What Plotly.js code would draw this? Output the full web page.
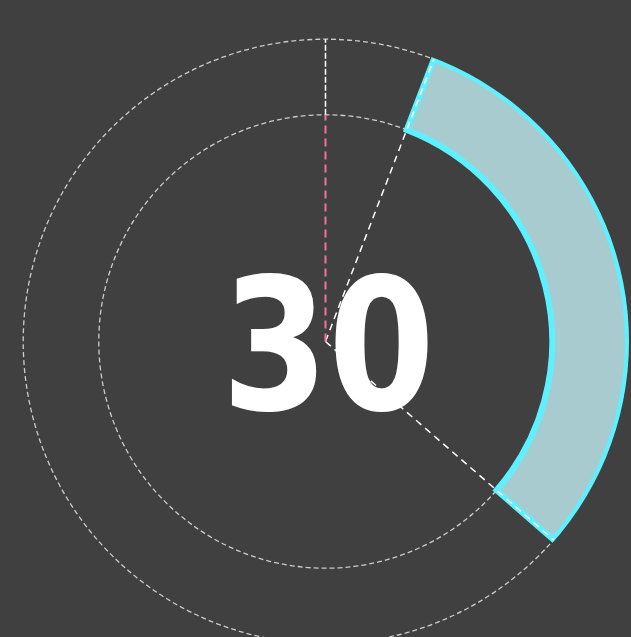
<!DOCTYPE html>
<html>
<head>
<meta charset="utf-8">
<script src="https://cdn.plot.ly/plotly-3.0.1.min.js"></script>
<style>
  html, body { margin: 0; padding: 0; background: #404040; overflow: hidden; }
  #chart { width: 631px; height: 700px; }
</style>
</head>
<body>
<div id="chart"></div>
<script>
// ---- data ----
const gaugeValue = 30;          // displayed value
const gaugeStart = 21;          // degrees, clockwise from top
const gaugeEnd = 131;           // degrees, clockwise from top
const innerR = 0.75;            // inner radius of the gauge band
const outerR = 1.0;             // outer radius of the gauge band
const markerAngle = 0;          // reference needle angle (top)

const bandCenter = (gaugeStart + gaugeEnd) / 2;
const bandWidth = gaugeEnd - gaugeStart;

const traces = [
  {
    type: 'barpolar',
    r: [outerR - innerR],
    base: [innerR],
    theta: [bandCenter],
    width: [bandWidth],
    marker: { color: '#a8cbd0', line: { color: '#5ef0ff', width: 6 } },
    hoverinfo: 'skip'
  },
  {
    type: 'scatterpolar', mode: 'lines',
    r: [0, outerR], theta: [gaugeStart, gaugeStart],
    line: { color: '#ffffff', width: 1.5, dash: '7px,5px' },
    hoverinfo: 'skip'
  },
  {
    type: 'scatterpolar', mode: 'lines',
    r: [0, outerR], theta: [gaugeEnd, gaugeEnd],
    line: { color: '#ffffff', width: 1.5, dash: '7px,5px' },
    hoverinfo: 'skip'
  },
  {
    type: 'scatterpolar', mode: 'lines',
    r: [0, innerR], theta: [markerAngle, markerAngle],
    line: { color: '#f5709f', width: 2, dash: '8px,5px' },
    hoverinfo: 'skip'
  },
  {
    type: 'scatterpolar', mode: 'lines',
    r: [innerR, outerR], theta: [markerAngle, markerAngle],
    line: { color: '#ffffff', width: 1.5, dash: '6px,2px' },
    hoverinfo: 'skip'
  }
];

const layout = {
  width: 631,
  height: 700,
  margin: { l: 22, r: 2, t: 38, b: 55, pad: 0 },
  paper_bgcolor: '#404040',
  plot_bgcolor: '#404040',
  showlegend: false,
  hovermode: false,
  polar: {
    bgcolor: '#404040',
    domain: { x: [0, 1], y: [0, 1] },
    radialaxis: {
      range: [0, 1.004],
      tickvals: [innerR, outerR],
      showticklabels: false,
      ticks: '',
      showline: false,
      gridcolor: '#cccccc',
      griddash: '5px,3px',
      gridwidth: 1.3
    },
    angularaxis: {
      rotation: 90,
      direction: 'clockwise',
      showticklabels: false,
      ticks: '',
      showline: false,
      showgrid: false
    }
  },
  annotations: [{
    text: String(gaugeValue),
    xref: 'paper', yref: 'paper',
    x: 0.5, y: 0.5,
    xanchor: 'center', yanchor: 'middle',
    xshift: 2, yshift: -3,
    showarrow: false,
    font: { family: 'DejaVu Sans Condensed', size: 184, color: '#ffffff', weight: 'bold' }
  }]
};

Plotly.newPlot('chart', traces, layout, { displayModeBar: false, staticPlot: true }).then(function () {
  const t = document.querySelector('.annotation-text');
  if (t && t.getComputedTextLength) {
    const L = t.getComputedTextLength();
    t.setAttribute('lengthAdjust', 'spacingAndGlyphs');
    t.setAttribute('textLength', (L * 0.925).toFixed(1));
  }
});
</script>
</body>
</html>
